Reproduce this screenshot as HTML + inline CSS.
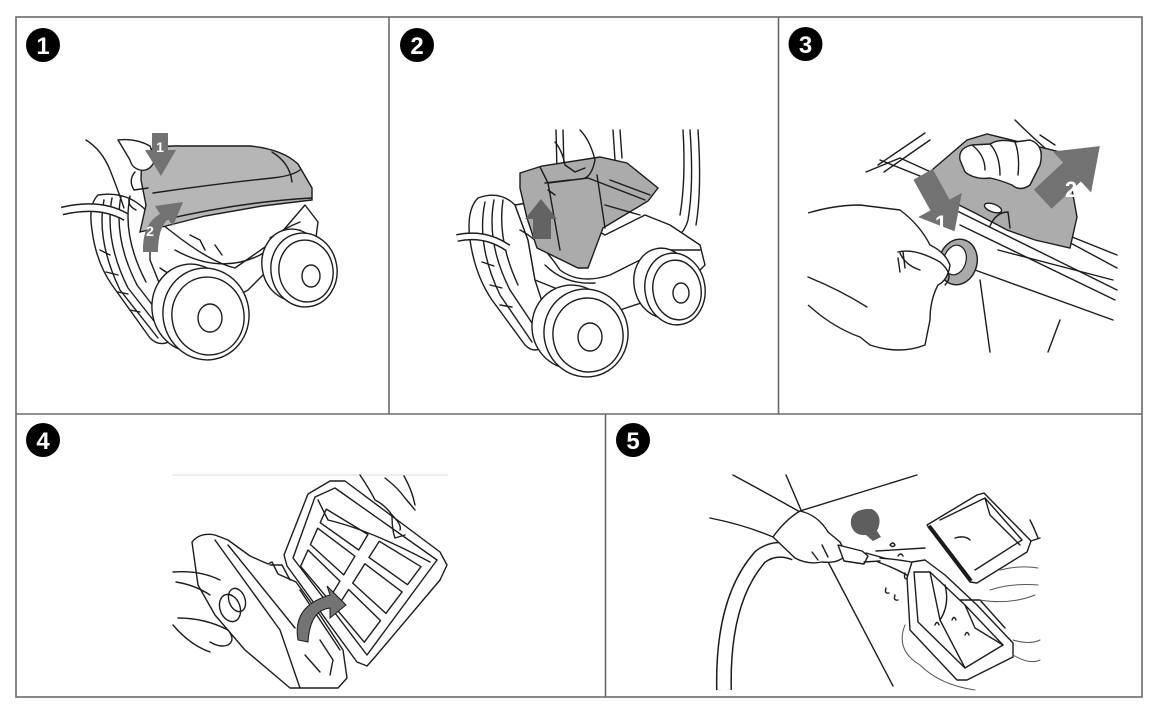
<!DOCTYPE html>
<html><head><meta charset="utf-8"><style>
html,body{margin:0;padding:0;background:#fff;}
svg{display:block;}
.g{fill:none;stroke:#6a6a6a;stroke-width:1.6;}
.l{fill:none;stroke:#1c1c1c;stroke-width:1.4;stroke-linejoin:round;stroke-linecap:round;}
.lw{fill:#fff;stroke:#1c1c1c;stroke-width:1.4;stroke-linejoin:round;}
.lt{fill:none;stroke:#555;stroke-width:1;stroke-linecap:round;}
.n{font-family:"Liberation Sans",sans-serif;font-weight:bold;font-size:24px;fill:#fff;text-anchor:middle;}
.a{font-family:"Liberation Sans",sans-serif;font-weight:bold;fill:#fff;text-anchor:middle;}
</style></head><body>
<svg width="1158" height="722" viewBox="0 0 1158 722" xmlns="http://www.w3.org/2000/svg">
<!-- grid -->
<rect class="g" x="16" y="17" width="1126" height="680"/>
<line class="g" x1="16" y1="414" x2="1142" y2="414"/>
<line class="g" x1="389" y1="17" x2="389" y2="414"/>
<line class="g" x1="778.5" y1="17" x2="778.5" y2="414"/>
<line class="g" x1="605.5" y1="414" x2="605.5" y2="697"/>

<!-- number badges -->
<circle cx="43" cy="45" r="17" fill="#000"/><text class="n" x="43" y="54">1</text>
<circle cx="417" cy="45" r="17" fill="#000"/><text class="n" x="417" y="54">2</text>
<circle cx="805.5" cy="44" r="17" fill="#000"/><text class="n" x="805.5" y="53">3</text>
<circle cx="43" cy="440" r="17" fill="#000"/><text class="n" x="43" y="449">4</text>
<circle cx="633" cy="440" r="17" fill="#000"/><text class="n" x="633" y="449">5</text>

<!-- ===== PANEL 1 ===== -->
<g>
 <!-- roller -->
 <path class="lw" d="M98,195 Q88,205 92,230 Q96,262 112,285 L150,338 Q160,348 172,340 L176,325 L165,300 L160,250 L150,215 Q130,190 98,195 Z"/>
 <path class="l" d="M104,200 Q96,240 120,290 L158,338"/>
 <path class="l" d="M112,198 Q104,240 128,288 L165,335"/>
 <path class="l" d="M121,196 Q113,238 137,285 L170,328"/>
 <path class="l" d="M130,197 Q122,236 146,282"/>
 <path class="l" d="M100,250 L110,255 M106,272 L118,275 M118,292 L128,294 M130,310 L140,312"/>
 <!-- cable -->
 <path d="M62,211 Q100,202 126,217" fill="none" stroke="#1c1c1c" stroke-width="9"/>
 <path d="M62,211 Q100,202 126,217" fill="none" stroke="#fff" stroke-width="6"/>
 <!-- body -->
 <path class="lw" d="M150,215 L172,232 Q210,262 235,268 L275,240 L305,205 L318,222 L315,245 L300,255 L270,268 L248,290 L230,300 L185,300 L160,285 L150,260 Z"/>
 <path class="l" d="M175,250 Q220,275 260,255 L300,230"/>
 <path class="l" d="M190,235 L200,240 L205,250 M215,245 L222,255 M270,238 Q285,228 300,222"/>
 <path class="l" d="M160,268 Q190,290 230,280"/>
 <!-- lid -->
 <path d="M142,152 Q160,145 182,146 L250,146 Q282,149 298,164 L312,188 L312,200 L262,206 L205,216 L166,226 L140,232 L146,205 L141,180 Z" fill="#b6b6b6" stroke="#1c1c1c" stroke-width="1.4"/>
 <path class="l" d="M153,193 Q215,184 272,178 Q292,176 300,170"/>
 <path class="l" d="M163,220 Q240,202 312,198"/>
 <path class="l" d="M272,152 Q290,163 292,182"/>
 <!-- right wheel -->
 <ellipse class="lw" cx="293" cy="265" rx="31" ry="36" transform="rotate(-10 293 265)"/>
 <ellipse class="lw" cx="304" cy="270" rx="33" ry="37" transform="rotate(-10 304 270)"/>
 <ellipse class="l" cx="306" cy="271" rx="27" ry="31" transform="rotate(-10 306 271)"/>
 <ellipse class="l" cx="311" cy="276" rx="9" ry="11"/>
 <!-- front wheel -->
 <ellipse class="lw" cx="192" cy="308" rx="40" ry="44" transform="rotate(-10 192 308)"/>
 <ellipse class="lw" cx="206" cy="314" rx="43" ry="46" transform="rotate(-10 206 314)"/>
 <ellipse class="l" cx="208" cy="316" rx="36" ry="39" transform="rotate(-10 208 316)"/>
 <ellipse class="l" cx="210" cy="318" rx="12" ry="14"/>
 <!-- hand -->
 <path class="l" d="M86,140 Q102,150 110,170 Q118,190 124,208"/>
 <path class="lw" d="M118,140 Q136,138 150,146 L155,160 Q150,172 140,170 Q132,168 130,160 Z"/>
 <path class="l" d="M135,172 Q128,180 134,190 L148,188 M130,196 Q126,205 136,210"/>
 <!-- arrows -->
 <path d="M152,133 L168,133 L168,150 L176,150 L161,176 L145,150 L152,150 Z" fill="#727272"/>
 <text class="a" x="160" y="152" font-size="14">1</text>
 <path d="M143,252 Q142,224 160,214 L155,206 L183,202 L173,226 L168,219 Q158,228 158,252 Z" fill="#727272"/>
 <text class="a" x="150" y="236" font-size="14">2</text>
</g>

<!-- ===== PANEL 2 ===== -->
<g>
 <!-- raised lid -->
 <path class="l" d="M556,130 L557,170 M563,130 L564,168"/>
 <path class="l" d="M613,130 L615,160 M620,130 L622,158"/>
 <path class="l" d="M683,130 Q686,180 680,215 M690,130 Q694,185 688,220 Q683,240 655,250 M698,130 Q702,190 696,225"/>
 <!-- roller -->
 <path class="lw" d="M478,198 Q466,210 470,240 Q475,275 492,300 L525,345 Q535,355 545,345 L548,320 L535,280 L528,240 L515,205 Q500,190 478,198 Z"/>
 <path class="l" d="M485,202 Q476,245 500,295 L532,342 M494,200 Q486,243 510,290 L540,335 M503,200 Q497,240 518,285"/>
 <path class="l" d="M482,262 L494,266 M490,285 L502,288 M500,305 L512,307"/>
 <!-- body -->
 <path class="lw" d="M515,205 L545,200 L605,235 L645,215 L670,225 L700,245 L705,265 L690,280 L650,300 L620,310 L590,300 L560,290 L535,280 L528,240 Z"/>
 <path class="l" d="M520,230 Q540,240 560,270 Q580,285 610,275 L660,250 L700,250"/>
 <path class="l" d="M545,265 Q565,285 595,283"/>
 <!-- cable -->
 <path d="M457,238 Q485,232 508,248" fill="none" stroke="#1c1c1c" stroke-width="8"/>
 <path d="M457,238 Q485,232 508,248" fill="none" stroke="#fff" stroke-width="5"/>
 <!-- filter box -->
 <path d="M520,173 L542,166 L600,157 L627,163 L658,188 L648,201 L603,228 L588,268 L578,268 L537,248 L527,218 L520,188 Z" fill="#ababab" stroke="#1c1c1c" stroke-width="1.4"/>
 <path class="l" d="M540,167 L548,183 L588,178 L645,200"/>
 <path class="l" d="M548,183 L560,250 M597,175 L605,228 M610,180 L650,195 M605,205 L640,215"/>
 <path class="l" d="M545,183 L570,180 M548,190 L555,195"/>
 <!-- hand -->
 <path class="l" d="M580,130 Q590,140 595,160 Q592,175 585,178 M555,142 Q562,150 565,165 L575,172 L585,168"/>
 <!-- arrow -->
 <path d="M533,239 L551,239 L551,219 L557,219 L541,199 L525,219 L533,219 Z" fill="#636363"/>
 <!-- right wheel -->
 <ellipse class="lw" cx="663" cy="283" rx="29" ry="35" transform="rotate(-10 663 283)"/>
 <ellipse class="lw" cx="675" cy="289" rx="30" ry="36" transform="rotate(-10 675 289)"/>
 <ellipse class="l" cx="677" cy="290" rx="24" ry="30" transform="rotate(-10 677 290)"/>
 <ellipse class="l" cx="681" cy="293" rx="8" ry="10"/>
 <!-- front wheel -->
 <ellipse class="lw" cx="572" cy="327" rx="40" ry="42" transform="rotate(-10 572 327)"/>
 <ellipse class="lw" cx="586" cy="333" rx="42" ry="44" transform="rotate(-10 586 333)"/>
 <ellipse class="l" cx="588" cy="335" rx="35" ry="37" transform="rotate(-10 588 335)"/>
 <ellipse class="l" cx="590" cy="337" rx="12" ry="14"/>
</g>

<!-- ===== PANEL 3 ===== -->
<g>
 <!-- frame lines -->
 <path class="l" d="M878,165 L925,133 M884,172 L930,140"/>
 <path class="l" d="M866,172 L900,158 Q960,185 1000,205 L1117,268"/>
 <path class="l" d="M880,160 L1117,255"/>
 <path class="l" d="M935,200 L1117,290 M960,225 L1115,300"/>
 <path class="l" d="M975,270 L1113,320 M998,250 L1113,280"/>
 <path class="l" d="M980,280 L990,352 M1060,320 L1048,352"/>
 <!-- gray filter panel -->
 <path d="M932,170 L967,140 L987,134 L1060,152 L1068,167 L1077,217 L1070,248 L1035,240 L1007,230 L975,213 L945,198 Z" fill="#acacac" stroke="#1c1c1c" stroke-width="1.4"/>
 <path class="l" d="M990,226 Q996,212 1008,212 L1010,228"/>
 <ellipse cx="993" cy="208" rx="9" ry="4" fill="#fff" stroke="#1c1c1c" stroke-width="1.4" transform="rotate(20 993 208)"/>
 <!-- top hand fingers -->
 <path class="lw" d="M960,160 Q958,148 972,145 L990,144 Q1000,138 1015,142 L1030,140 Q1045,145 1040,165 L1030,185 Q1020,192 1012,185 Q1000,180 990,178 Q975,180 965,172 Z"/>
 <path class="l" d="M972,145 Q985,155 985,170 M990,144 Q1000,155 1000,175 M1015,142 Q1020,155 1018,175"/>
 <path class="l" d="M1015,120 Q1030,135 1045,148 M1040,135 L1055,145"/>
 <!-- ring -->
 <ellipse cx="958" cy="262" rx="19" ry="23" fill="#aaaaaa" stroke="#1c1c1c" stroke-width="1.4" transform="rotate(15 958 262)"/>
 <ellipse cx="955" cy="260" rx="11" ry="15" fill="#fff" stroke="#1c1c1c" stroke-width="1.2" transform="rotate(15 955 260)"/>
 <!-- bottom hand -->
 <path class="lw" d="M808,213 Q835,205 860,205 L900,210 Q920,225 930,245 Q945,252 950,265 Q948,280 938,285 Q930,300 930,320 L925,345 Q900,355 870,345 L860,337 Q840,330 820,315 L808,305"/>
 <path class="l" d="M808,277 Q840,290 867,307"/>
 <path class="l" d="M898,252 Q915,248 940,262 Q955,275 945,285 M900,253 Q905,265 920,270"/>
 <path class="l" d="M898,258 L900,272 M903,252 L905,268"/>
 <!-- arrows -->
 <path d="M-11,-35 L11,-35 L11,0 L25,0 L0,30 L-25,0 L-11,0 Z" fill="#727272" transform="translate(940 205) rotate(-29)"/>
 <text class="a" x="941" y="231" font-size="22">1</text>
 <path d="M-13,40 L13,40 L13,0 L28,0 L0,-38 L-28,0 L-13,0 Z" fill="#727272" transform="translate(1072 172) rotate(47)"/>
 <text class="a" x="1071" y="197" font-size="22">2</text>
</g>

<!-- ===== PANEL 4 ===== -->
<g>
 <line x1="172" y1="475" x2="448" y2="475" stroke="#e2e2e2" stroke-width="1.2"/>
 <!-- left robot part -->
 <path class="lw" d="M192,542 Q200,532 215,535 L228,540 L250,556 L268,564 L272,562 L278,574 L296,582 L320,615 L343,650 L347,678 L338,688 L290,688 L245,650 L215,615 L198,585 Z"/>
 <path class="l" d="M215,540 L280,630 L300,688 M228,545 L295,628"/>
 <path class="l" d="M270,565 L282,565 L290,580 M300,590 L340,650"/>
 <ellipse class="l" cx="230" cy="608" rx="10" ry="14" transform="rotate(-20 230 608)"/>
 <ellipse class="l" cx="237" cy="600" rx="8" ry="12" transform="rotate(-20 237 600)"/>
 <path class="l" d="M320,640 L333,660 L330,675 M305,655 L320,672"/>
 <!-- hands -->
 <path class="l" d="M173,572 Q200,570 220,580 M176,582 Q195,585 210,595"/>
 <path class="l" d="M178,618 Q205,618 228,630 Q236,640 228,645 Q220,648 210,642 M173,625 Q190,645 210,652"/>
 <!-- filter frame -->
 <path class="lw" d="M308,494 L330,481 L345,481 L440,552 L447,565 L440,580 L375,657 L367,666 L357,662 L287,566 L284,555 Z"/>
 <path class="l" d="M315,497 L335,488 L437,560 L367,655 L293,558 Z"/>
 <path class="l" d="M318,500 L328,520 Q370,530 430,562"/>
 <!-- cells -->
 <path class="l" d="M300.6,566.3 L328.7,599.7 L339.9,581.1 L308,550 Z"/>
 <path class="l" d="M336.3,608.8 L364.3,642.2 L380.5,620.6 L348.6,589.5 Z"/>
 <path class="l" d="M310.4,544.5 L343.7,574.9 L354.9,556.2 L317.7,528.2 Z"/>
 <path class="l" d="M352.7,583.1 L385.9,613.4 L402.1,591.9 L364.9,563.8 Z"/>
 <path class="l" d="M320.2,522.7 L358.7,550 L368,534.5 L326.3,509.1 Z"/>
 <path class="l" d="M369,557.4 L407.5,584.7 L421,566.7 L379.3,541.3 Z"/>
 <!-- upper hand -->
 <path class="l" d="M360,475 Q370,490 375,500 Q385,505 392,515 Q402,525 400,530 M385,478 Q398,488 405,498 L415,510 M404,476 Q412,490 415,505"/>
 <path class="l" d="M392,515 Q392,530 395,538 L405,535"/>
 <!-- gray arrow -->
 <path d="M298,640 Q292,606 330,595 L327,586 L346,605 L330,618 L330,608 Q310,610 308,642 Z" fill="#747474" stroke="#1c1c1c" stroke-width="1"/>
</g>

<!-- ===== PANEL 5 ===== -->
<g>
 <!-- hose -->
 <path d="M724,690 Q722,600 760,557 Q775,545 795,553" fill="none" stroke="#1c1c1c" stroke-width="16"/>
 <path d="M724,690 Q722,600 760,557 Q775,545 795,553" fill="none" stroke="#fff" stroke-width="13"/>
 <!-- lines -->
 <path class="l" d="M733,475 Q770,495 800,512"/>
 <path class="l" d="M786,475 L801,510"/>
 <path class="l" d="M800,511 L917,475"/>
 <path class="l" d="M710,518 Q745,525 773,537"/>
 <path class="l" d="M826,558 L893,686"/>
 <!-- hand -->
 <path class="lw" d="M800,511 Q818,515 828,532 L840,542 L846,554 Q840,564 822,562 Q808,565 795,558 L773,537 Q785,520 800,511 Z"/>
 <path class="l" d="M812,552 L818,560 M822,545 L828,557"/>
 <!-- nozzle -->
 <path class="lw" d="M838,545 L862,551 L868,556 L864,564 L844,561 Z"/>
 <path class="l" d="M866,553 L884,558 M864,562 L880,561"/>
 <!-- water spray -->
 <path class="l" d="M876,551 L925,548 M880,558 Q905,560 925,565 M878,562 Q900,570 915,580"/>
 <path class="l" d="M890,545 q3,-4 5,0 q-2,3 -5,0 M898,556 q3,-4 5,0 M905,573 q-2,8 4,5 M895,595 q-2,6 3,5 M886,588 q-2,6 3,5"/>
 <!-- gray blob -->
 <path d="M866,509 Q849,511 851,525 Q854,536 866,535 L873,541 L881,537 L877,531 Q884,516 872,509 Z" fill="#5e5e5e"/>
 <!-- top right filter -->
 <path class="lw" d="M927,525 L977,495 L984,493 L1031,541 L1027,552 L977,583 L970,582 Z"/>
 <path d="M929,526 L971,581" stroke="#1c1c1c" stroke-width="4" fill="none"/>
 <path class="l" d="M940,520 L985,498 L1022,540 L975,570 M985,498 L990,515 L1020,545 M955,538 Q965,535 970,540"/>
 <path class="l" d="M1031,541 L1040,538 M1030,520 Q1035,530 1038,538"/>
 <!-- bottom filter -->
 <path class="lw" d="M907,578 L912,562 L925,560 L945,575 L977,605 L1013,643 L1013,657 L967,680 L957,680 L910,630 Z"/>
 <path class="l" d="M914,572 L930,572 L965,605 L1003,645 L965,668 L918,622 Z"/>
 <path class="l" d="M930,572 L940,620 L965,668 M945,585 Q950,605 940,620 M965,605 L975,628 L1003,645 M960,600 L980,600 L1005,628"/>
 <path class="l" d="M935,625 q2,-5 4,0 M952,620 q2,-5 4,0 M965,635 q2,-5 4,0"/>
 <!-- water contours -->
 <path class="lt" d="M905,625 Q895,650 920,665 Q940,685 975,690 M1013,640 Q1030,645 1040,640 M980,600 Q1010,605 1035,595 M990,590 Q1010,583 1038,585 M1000,570 Q1020,565 1038,568 M1013,655 Q1030,665 1040,660"/>
</g>
</svg>
</body></html>
